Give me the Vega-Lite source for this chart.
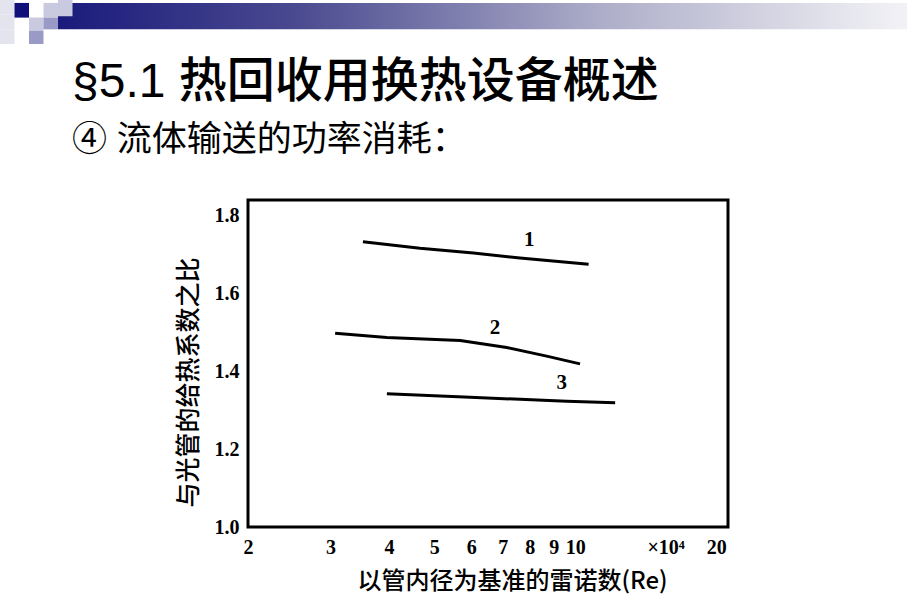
{
  "$schema": "https://vega.github.io/schema/vega-lite/v6.json",
  "background": "white",
  "padding": 0,
  "bounds": "flush",
  "center": true,
  "spacing": 156,
  "datasets": {
    "bar": [{"c0": 4, "c1": 67.3, "r0": 0.2, "r1": 2.0}],
    "tiles": [
      {"c0": 0, "c1": 1, "r0": 0, "r1": 1, "shade": "pale"},
      {"c0": 0, "c1": 1, "r0": 1, "r1": 2, "shade": "pale"},
      {"c0": 0, "c1": 1, "r0": 2, "r1": 3, "shade": "pale"},
      {"c0": 1, "c1": 2, "r0": 0.2, "r1": 1.2, "shade": "navy"},
      {"c0": 2, "c1": 3, "r0": 1.2, "r1": 2.1, "shade": "light"},
      {"c0": 2, "c1": 3, "r0": 2.1, "r1": 3, "shade": "mid"},
      {"c0": 3, "c1": 4, "r0": 0.2, "r1": 1.2, "shade": "light"},
      {"c0": 3, "c1": 4, "r0": 1.2, "r1": 2.0, "shade": "mid"},
      {"c0": 4, "c1": 5, "r0": 0, "r1": 1.1, "shade": "light"}
    ],
    "curves": [
      {"curve": "1", "re": 3.52, "ratio": 1.733},
      {"curve": "1", "re": 4.66, "ratio": 1.716},
      {"curve": "1", "re": 6.06, "ratio": 1.704},
      {"curve": "1", "re": 7.62, "ratio": 1.691},
      {"curve": "1", "re": 10.68, "ratio": 1.675},
      {"curve": "2", "re": 3.07, "ratio": 1.498},
      {"curve": "2", "re": 3.96, "ratio": 1.487},
      {"curve": "2", "re": 5.68, "ratio": 1.479},
      {"curve": "2", "re": 7.14, "ratio": 1.461},
      {"curve": "2", "re": 8.69, "ratio": 1.439},
      {"curve": "2", "re": 10.24, "ratio": 1.419},
      {"curve": "3", "re": 3.96, "ratio": 1.342},
      {"curve": "3", "re": 5.96, "ratio": 1.333},
      {"curve": "3", "re": 7.62, "ratio": 1.328},
      {"curve": "3", "re": 9.59, "ratio": 1.323},
      {"curve": "3", "re": 12.17, "ratio": 1.319}
    ],
    "tags": [
      {"tag": "1", "re": 7.98, "ratio": 1.738},
      {"tag": "2", "re": 6.74, "ratio": 1.511},
      {"tag": "3", "re": 9.36, "ratio": 1.369}
    ]
  },
  "vconcat": [
    {
      "width": 976,
      "height": 44,
      "view": {"stroke": null},
      "layer": [
        {
          "data": {"name": "bar"},
          "mark": {
            "type": "rect",
            "fill": {
              "gradient": "linear",
              "stops": [
                {"offset": 0, "color": "#1a1a7c"},
                {"offset": 0.26, "color": "#4a4a90"},
                {"offset": 0.59, "color": "#adadc9"},
                {"offset": 0.86, "color": "#e6e6ee"},
                {"offset": 1, "color": "#ffffff"}
              ]
            }
          },
          "encoding": {
            "x": {"field": "c0", "type": "quantitative", "scale": {"domain": [0, 67.3], "nice": false}, "axis": null},
            "x2": {"field": "c1"},
            "y": {"field": "r0", "type": "quantitative", "scale": {"domain": [3, 0], "nice": false}, "axis": null},
            "y2": {"field": "r1"}
          }
        },
        {
          "data": {"name": "tiles"},
          "mark": {"type": "rect"},
          "encoding": {
            "x": {"field": "c0", "type": "quantitative"},
            "x2": {"field": "c1"},
            "y": {"field": "r0", "type": "quantitative"},
            "y2": {"field": "r1"},
            "color": {
              "field": "shade",
              "type": "nominal",
              "scale": {"domain": ["navy", "mid", "light", "pale"], "range": ["#10107a", "#9a9ac6", "#c9c9df", "#e4e4ee"]},
              "legend": null
            }
          }
        }
      ]
    },
    {
      "width": 480,
      "height": 327,
      "view": {"stroke": "#000", "strokeWidth": 3},
      "title": {
        "text": "§5.1 热回收用换热设备概述",
        "subtitle": "④ 流体输送的功率消耗：",
        "anchor": "start",
        "frame": "group",
        "dx": -176,
        "offset": 42,
        "font": "Liberation Sans, Noto Sans CJK SC",
        "fontSize": 48,
        "fontWeight": 500,
        "color": "#000",
        "subtitleFont": "Liberation Sans, Noto Sans CJK SC",
        "subtitleFontSize": 35,
        "subtitleColor": "#000",
        "subtitlePadding": 16
      },
      "layer": [
        {
          "data": {"name": "curves"},
          "mark": {"type": "line", "color": "#000", "strokeWidth": 3},
          "encoding": {
            "x": {
              "field": "re",
              "type": "quantitative",
              "scale": {"type": "log", "domain": [2, 21.2], "nice": false},
              "axis": {
                "values": [2, 3, 4, 5, 6, 7, 8, 9, 10, 15.6, 20],
                "labelExpr": "datum.value > 15 && datum.value < 16 ? '×10⁴' : format(datum.value, 'd')",
                "labelOverlap": false,
                "labelFlush": false,
                "ticks": false,
                "domain": false,
                "grid": false,
                "labelFont": "Liberation Serif",
                "labelFontSize": 20,
                "labelFontWeight": "bold",
                "labelColor": "#000",
                "labelPadding": 10,
                "title": "以管内径为基准的雷诺数(Re)",
                "titleFont": "Noto Sans CJK SC",
                "titleFontSize": 24,
                "titleFontWeight": 500,
                "titleColor": "#000",
                "titlePadding": 12,
                "titleX": 264
              }
            },
            "y": {
              "field": "ratio",
              "type": "quantitative",
              "scale": {"domain": [1.0, 1.84], "nice": false, "zero": false},
              "axis": {
                "values": [1.0, 1.2, 1.4, 1.6, 1.8],
                "format": ".1f",
                "ticks": false,
                "domain": false,
                "grid": false,
                "labelFont": "Liberation Serif",
                "labelFontSize": 20,
                "labelFontWeight": "bold",
                "labelColor": "#000",
                "labelPadding": 9,
                "title": "与光管的给热系数之比",
                "titleFont": "Noto Sans CJK SC",
                "titleFontSize": 25,
                "titleFontWeight": 500,
                "titleColor": "#000",
                "titlePadding": 13,
                "titleY": 182
              }
            },
            "detail": {"field": "curve", "type": "nominal"}
          }
        },
        {
          "data": {"name": "tags"},
          "mark": {"type": "text", "font": "Liberation Serif", "fontSize": 21, "fontWeight": "bold", "color": "#000"},
          "encoding": {
            "x": {"field": "re", "type": "quantitative"},
            "y": {"field": "ratio", "type": "quantitative"},
            "text": {"field": "tag"}
          }
        }
      ]
    }
  ]
}
